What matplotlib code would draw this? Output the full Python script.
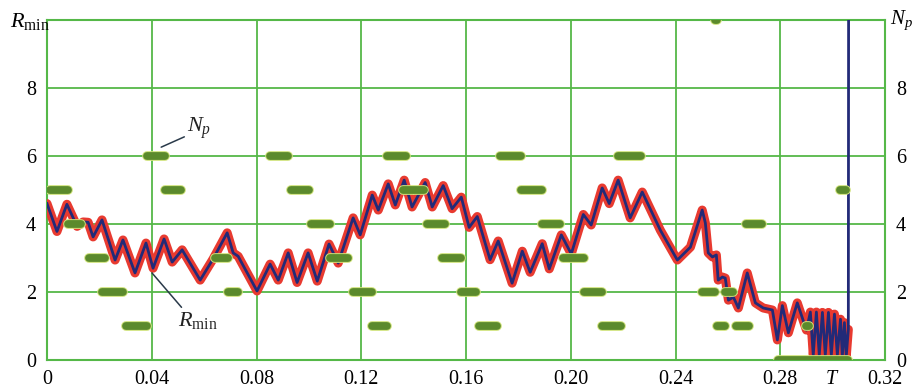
import numpy as np
import matplotlib
matplotlib.use("Agg")
import matplotlib.pyplot as plt

plt.rcParams['font.family'] = ['Liberation Serif', 'DejaVu Serif']
plt.rcParams['mathtext.fontset'] = 'custom'
plt.rcParams['mathtext.rm'] = 'Liberation Serif'
plt.rcParams['mathtext.it'] = 'Liberation Serif:italic'

# Rmin curve (t, value)
rmin_t = [0.0000, 0.0038, 0.0076, 0.0115, 0.0138, 0.0157, 0.0176, 0.0210, 0.0260, 0.0290,
          0.0336, 0.0378, 0.0405, 0.0447, 0.0478, 0.0516, 0.0585, 0.0634, 0.0688, 0.0711,
          0.0730, 0.0802, 0.0852, 0.0883, 0.0921, 0.0955, 0.0997, 0.1032, 0.1077, 0.1112,
          0.1169, 0.1196, 0.1242, 0.1265, 0.1303, 0.1330, 0.1364, 0.1394, 0.1444, 0.1471,
          0.1513, 0.1547, 0.1582, 0.1612, 0.1643, 0.1692, 0.1723, 0.1776, 0.1815, 0.1845,
          0.1891, 0.1918, 0.1964, 0.2002, 0.2048, 0.2078, 0.2120, 0.2147, 0.2181, 0.2227,
          0.2273, 0.2342, 0.2407, 0.2457, 0.2502, 0.2514, 0.2525, 0.2541, 0.2556, 0.2563,
          0.2579, 0.2590, 0.2602, 0.2621, 0.2640, 0.2674, 0.2705, 0.2735, 0.2770, 0.2789,
          0.2808, 0.2831, 0.2865, 0.2900, 0.2915, 0.2926, 0.2938, 0.2949, 0.2961, 0.2972,
          0.2984, 0.2995, 0.3007, 0.3018, 0.3030, 0.3037, 0.3045, 0.3052, 0.3060]
rmin_v = [4.60, 3.78, 4.58, 3.93, 4.06, 4.05, 3.62, 4.12, 2.94, 3.53,
          2.56, 3.44, 2.70, 3.56, 2.88, 3.24, 2.35, 2.97, 3.74, 3.15,
          3.05, 2.03, 2.82, 2.35, 3.15, 2.28, 3.15, 2.32, 3.41, 2.85,
          4.18, 3.68, 4.85, 4.41, 5.18, 4.56, 5.29, 4.50, 5.22, 4.50,
          5.13, 4.45, 4.79, 3.90, 4.22, 2.95, 3.50, 2.26, 3.20, 2.58,
          3.42, 2.68, 3.68, 3.12, 4.28, 3.97, 5.06, 4.60, 5.29, 4.18,
          4.94, 3.82, 2.94, 3.32, 4.41, 4.03, 3.15, 3.03, 3.09, 2.35,
          2.44, 2.41, 1.76, 1.85, 1.53, 2.56, 1.68, 1.53, 1.47, 0.59,
          1.60, 0.80, 1.68, 0.88, 1.41, 0.15, 1.41, 0.15, 1.40, 0.15,
          1.40, 0.15, 1.35, 0.15, 1.20, 0.10, 1.10, 0.10, 0.90]
# final jump of Rmin at the end of the run
jump_t = 0.3062
jump_v = 20.0

# Np: horizontal runs (start, end, level)
np_start = [0.000, 0.044, 0.092, 0.135, 0.180, 0.302,
            0.037, 0.084, 0.129, 0.172, 0.217,
            0.007, 0.100, 0.144, 0.188, 0.266,
            0.015, 0.063, 0.107, 0.150, 0.196,
            0.020, 0.068, 0.116, 0.157, 0.204, 0.249, 0.258,
            0.029, 0.123, 0.164, 0.211, 0.255, 0.262, 0.289,
            0.278, 0.254]
np_end = [0.009, 0.052, 0.101, 0.145, 0.190, 0.306,
          0.046, 0.093, 0.138, 0.182, 0.228,
          0.014, 0.109, 0.153, 0.197, 0.274,
          0.023, 0.070, 0.116, 0.159, 0.206,
          0.030, 0.074, 0.125, 0.165, 0.213, 0.256, 0.263,
          0.039, 0.131, 0.173, 0.220, 0.260, 0.269, 0.292,
          0.307, 0.257]
np_level = [5, 5, 5, 5, 5, 5,
            6, 6, 6, 6, 6,
            4, 4, 4, 4, 4,
            3, 3, 3, 3, 3,
            2, 2, 2, 2, 2, 2, 2,
            1, 1, 1, 1, 1, 1, 1,
            0, 10]

x_ticks = [0, 0.04, 0.08, 0.12, 0.16, 0.20, 0.24, 0.28, 0.32]
x_labels = ['0', '0.04', '0.08', '0.12', '0.16', '0.20', '0.24', '0.28', '0.32']
y_ticks = [0, 2, 4, 6, 8]

grid_green = '#55b848'
np_fill = '#5b8a2c'
np_edge = '#cfe27a'
red = '#e83a30'
navy = '#222a78'

fig = plt.figure(figsize=(9.13, 3.89), dpi=100)
ax = fig.add_axes([47 / 913, 1 - 360 / 389, 838 / 913, 340 / 389])
ax.set_xlim(0, 0.32)
ax.set_ylim(0, 10)

ax.set_xticks(x_ticks)
ax.set_xticklabels(x_labels)
ax.set_xticks([0.30], minor=True)
ax.set_xticklabels(['$T$'], minor=True)
ax.set_yticks(y_ticks)
ax.grid(True, which='major', color=grid_green, lw=1.3)
ax.set_axisbelow(True)
for s in ax.spines.values():
    s.set_color(grid_green)
    s.set_linewidth(1.5)
ax.tick_params(axis='both', which='both', length=0, labelsize=14.5)
ax.tick_params(axis='x', which='both', pad=7)
ax.tick_params(axis='y', labelleft=True, labelright=True, pad=8)

# Rmin: red dotted outline plus navy line
ax.plot(rmin_t, rmin_v, color=red, lw=6.5, solid_joinstyle='round',
        solid_capstyle='round', zorder=3)
ax.plot(rmin_t + [jump_t], rmin_v + [jump_v], color=navy, lw=2.0,
        solid_joinstyle='round', zorder=4)

# Np capsules
shrink = 0.0010
for a, b, lev in zip(np_start, np_end, np_level):
    ax.plot([a + shrink, b - shrink], [lev, lev], color=np_edge, lw=7.0,
            solid_capstyle='round', zorder=5)
    ax.plot([a + shrink, b - shrink], [lev, lev], color=np_fill, lw=5.6,
            solid_capstyle='round', zorder=6)

# annotations
ax.annotate('$N_p$', xy=(0.0436, 6.26), xytext=(0.0535, 6.45),
            fontsize=16, color='#222222', ha='left', va='bottom',
            arrowprops=dict(arrowstyle='-', color='#2a3a4a', lw=1.1,
                            shrinkA=0, shrinkB=0,
                            relpos=(0, 0.2)), annotation_clip=False, zorder=7)
ax.annotate(r'$R_{\rm min}$', xy=(0.0401, 2.56), xytext=(0.0500, 0.85),
            fontsize=16, color='#222222', ha='left', va='bottom',
            arrowprops=dict(arrowstyle='-', color='#2a3a4a', lw=1.1,
                            shrinkA=0, shrinkB=0,
                            relpos=(0.15, 1.0)), zorder=7)

fig.text(10 / 913, 1 - 32 / 389, r'$R_{\rm min}$', fontsize=16, ha='left', va='bottom')
fig.text(890 / 913, 1 - 32 / 389, '$N_p$', fontsize=15, ha='left', va='bottom')

fig.savefig('out.png', dpi=100)
